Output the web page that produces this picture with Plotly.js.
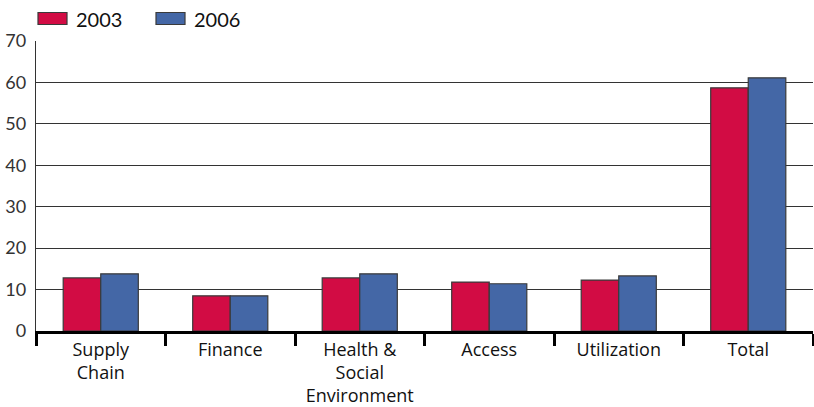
<!DOCTYPE html>
<html><head><meta charset="utf-8">
<script src="https://cdn.plot.ly/plotly-3.0.1.min.js"></script>
<style>html,body{margin:0;padding:0;background:#fff}#c{width:814px;height:407px}</style>
</head><body><div id="c"></div>
<script>
const categories = ["Supply<br>Chain", "Finance", "Health &<br>Social<br>Environment", "Access", "Utilization", "Total"];
const seriesNames = ["2003", "2006"];
const values2003 = [12.8, 8.5, 12.8, 11.8, 12.3, 58.7];
const values2006 = [13.8, 8.5, 13.8, 11.4, 13.3, 61.1];
const yTicks = [0, 10, 20, 30, 40, 50, 60, 70];
const colors = ["#d20c44", "#4467a6"];

(function () {
const font = "'Open Sans', Lato, sans-serif";
const lfont = "Lato, 'Open Sans', sans-serif";
const outline = {color: "#3a3a3a", width: 1.2};
const traces = [
  {type: "bar", name: seriesNames[0], x: categories, y: values2003,
   marker: {color: colors[0], line: outline}},
  {type: "bar", name: seriesNames[1], x: categories, y: values2006,
   marker: {color: colors[1], line: outline}}
];

// custom legend (wide swatches like the reference)
const plotW = 777, plotH = 290, plotL = 36, plotT = 41;
const px = v => (v - plotL) / plotW;
const py = v => (plotT + plotH - v) / plotH;
const legendX = [38, 156];
const shapes = [], annotations = [];
seriesNames.forEach((n, i) => {
  shapes.push({type: "rect", xref: "paper", yref: "paper",
    x0: px(legendX[i]), x1: px(legendX[i] + 29), y0: py(24.5), y1: py(12.5),
    fillcolor: colors[i], line: {color: "#3a3a3a", width: 1.2}});
  annotations.push({xref: "paper", yref: "paper", x: px(legendX[i] + 36), y: py(19),
    xanchor: "left", yanchor: "middle", text: n, showarrow: false,
    font: {family: lfont, size: 20, color: "#111"}});
});

const layout = {
  width: 814, height: 407,
  margin: {l: 36, r: 1, t: 41, b: 76},
  paper_bgcolor: "#fff", plot_bgcolor: "#fff",
  barmode: "group", bargap: 0.42, bargroupgap: 0,
  showlegend: false,
  shapes: shapes, annotations: annotations,
  xaxis: {
    type: "category", tickson: "boundaries", ticks: "outside", ticklen: 12, tickwidth: 3,
    tickcolor: "#000", showline: true, linecolor: "#000", linewidth: 3,
    showgrid: false, tickfont: {family: font, size: 18, color: "#111"}, fixedrange: true
  },
  yaxis: {
    range: [0, 70], tickvals: yTicks, showgrid: true, gridcolor: "#333", gridwidth: 1.2,
    showline: true, linecolor: "#333", linewidth: 1.2, zeroline: false,
    ticks: "", tickfont: {family: lfont, size: 18, color: "#333"}, ticklabelstandoff: 5
  },
  font: {family: font}
};
Plotly.newPlot("c", traces, layout, {displayModeBar: false, staticPlot: true});
})();
</script></body></html>
